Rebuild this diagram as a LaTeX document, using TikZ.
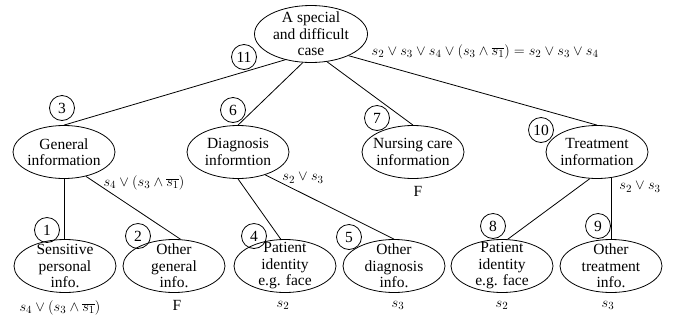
\documentclass[tikz,border=0pt]{standalone}
\usepackage{fontspec}
\setmainfont{Liberation Serif}
\usetikzlibrary{shapes.geometric}
\begin{document}
\begin{tikzpicture}[x=1pt,y=-1pt,line width=0.8pt,
        every node/.style={font=\fontsize{15.5}{16.5}\selectfont},
        ell/.style={ellipse,draw,align=center,inner xsep=-8pt,inner ysep=-8pt,
            minimum width=102pt,minimum height=53pt},
        numc/.style={circle,draw,inner sep=0pt,minimum size=25pt}]
    \useasboundingbox (0,0) rectangle (674,325);

    % tree
    \node[ell,minimum width=113pt,minimum height=57pt] (root) at (311,34) {A special\\and difficult\\case};

    \node[ell] (gen) at (64,152) {General\\information};
    \node[ell] (diag) at (238,152) {Diagnosis\\informtion};
    \node[ell] (nurs) at (413,152) {Nursing care\\information};
    \node[ell] (treat) at (597,152) {Treatment\\information};

    \node[ell] (sens) at (65,266) {Sensitive\\personal\\info.};
    \node[ell] (othgen) at (174,266) {Other\\general\\info.};
    \node[ell] (pat1) at (285,266) {Patient\\identity\\e.g. face};
    \node[ell] (othdiag) at (394,266) {Other\\diagnosis\\info.};
    \node[ell] (pat2) at (502,266) {Patient\\identity\\e.g. face};
    \node[ell] (othtreat) at (611,266) {Other\\treatment\\info.};

    \draw (root.225) -- (gen.north);
    \draw (root.254) -- (diag.north);
    \draw (root.300) -- (nurs.north);
    \draw (root.330) -- (treat.north);

    \draw (gen.south) -- (gen.south |- sens.north);
    \draw (gen.312) -- (othgen.76);
    \draw (diag.south) -- (pat1.99);
    \draw (diag.320) -- (othdiag.north);
    \draw (treat.255) -- (pat2.78);
    \draw (treat.300) -- (treat.300 |- othtreat.north);

    % numbers
    \foreach \num/\x/\y in {11/244/57, 3/62/108, 6/233/110, 7/377/118, 10/541/130,
        1/47/230, 2/138/236, 4/254/236, 5/349/237, 8/493/226, 9/598/226}
    {
        \node[numc] (c\num) at (\x,\y) {\num};
    }

    % conditions
    \node[anchor=west] (lroot) at (368,52) {$s_2 \vee s_3 \vee s_4 \vee (s_3 \wedge \overline{s_1}) = s_2 \vee s_3 \vee s_4$};
    \node (lgen) at (144,183) {$s_4 \vee (s_3 \wedge \overline{s_1})$};
    \node (ldiag) at (303,178) {$s_2 \vee s_3$};
    \node (lnurs) at (418,191) {F};
    \node (ltreat) at (640,187) {$s_2 \vee s_3$};

    \node (lsens) at (60,308) {$s_4 \vee (s_3 \wedge \overline{s_1})$};
    \node (lothgen) at (177,305) {F};
    \node (lpat1) at (283,305) {$s_2$};
    \node (lothdiag) at (398,305) {$s_3$};
    \node (lpat2) at (502,305) {$s_2$};
    \node (lothtreat) at (608,305) {$s_3$};
\end{tikzpicture}
\end{document}
